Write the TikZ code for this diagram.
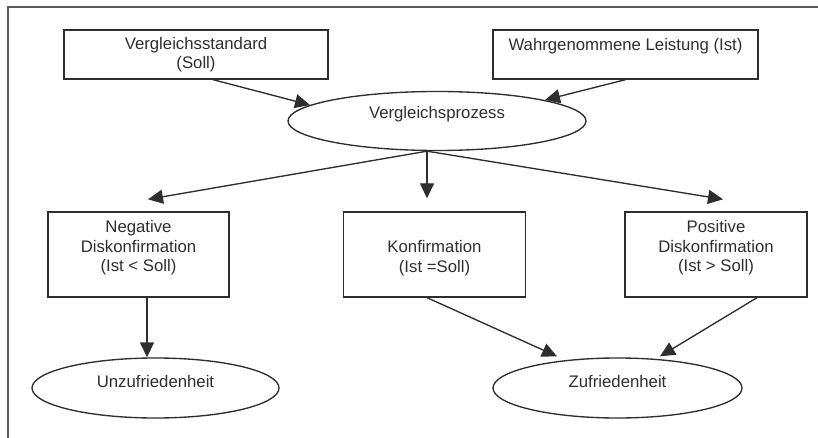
\documentclass[tikz,border=0pt]{standalone}
\usepackage{fontspec}
\setmainfont{Liberation Sans}
\usetikzlibrary{arrows.meta,shapes.geometric,calc}
\definecolor{ink}{HTML}{2E2E2E}
\definecolor{framecol}{HTML}{5A5A5A}
\tikzset{
  boxshape/.style={draw=ink, line width=1.35pt, rectangle, inner sep=0pt},
  ovalshape/.style={draw=ink, line width=1.35pt, ellipse, inner sep=0pt},
  txt/.style={text=ink, align=center, inner sep=0pt,
    font=\fontsize{16.75}{19.5}\selectfont},
  arr/.style={draw=ink, line width=1.35pt, -{Triangle[length=15pt,width=14pt]}},
}
\begin{document}
\begin{tikzpicture}[x=1pt,y=-1pt]
\useasboundingbox (0,0) rectangle (818,438);

% outer frame (top and left edges)
\draw[framecol, line width=1.5pt] (818,7) -- (8,7) -- (8,438);

% top row
\node[boxshape, minimum width=264pt, minimum height=49pt,
  label={[txt]center:Vergleichsstandard\\(Soll)}] (std) at (196,54.5) {};
\node[boxshape, minimum width=265pt, minimum height=49pt,
  label={[txt, yshift=8.5pt]center:Wahrgenommene Leistung (Ist)}] (ist) at (625.5,54.5) {};

% comparison process
\node[ovalshape, minimum width=298pt, minimum height=59pt,
  label={[txt, yshift=7pt]center:Vergleichsprozess}] (cmp) at (437,121) {};

% outcomes of the comparison
\node[boxshape, minimum width=181pt, minimum height=85pt,
  label={[txt, yshift=6.5pt]center:Negative\\Diskonfirmation\\(Ist < Soll)}] (neg) at (138.5,254.5) {};
\node[boxshape, minimum width=182pt, minimum height=85pt,
  label={[txt, yshift=-3.5pt]center:Konfirmation\\(Ist =Soll)}] (kon) at (434.5,254.5) {};
\node[boxshape, minimum width=182pt, minimum height=85pt,
  label={[txt, yshift=6.5pt]center:Positive\\Diskonfirmation\\(Ist > Soll)}] (pos) at (716,254.5) {};

% satisfaction states
\node[ovalshape, minimum width=247pt, minimum height=60pt,
  label={[txt, yshift=6pt]center:Unzufriedenheit}] (unz) at (155.5,388) {};
\node[ovalshape, minimum width=249pt, minimum height=60pt,
  label={[txt, yshift=6pt]center:Zufriedenheit}] (zuf) at (617.5,388) {};

% connectors
\draw[arr] ($(std.south)+(17,0)$) -- ($(cmp.center)+(-127,-16)$);
\draw[arr] (ist.south) -- ($(cmp.center)+(108,-21)$);

\coordinate (fan) at ($(cmp.south)+(-10,0)$);
\draw[arr] (fan) -- ($(neg.north)+(9.5,-12)$);
\draw[arr] (fan) -- (fan |- {$(kon.north)+(0,-13)$});
\draw[arr] (fan) -- ($(pos.north)+(7,-12)$);

\coordinate (negout) at ($(neg.south)+(8.5,0)$);
\draw[arr] (negout) -- (negout |- unz.north);
\draw[arr] ($(kon.south)+(-7.5,0)$) -- ($(zuf.north)+(-60.5,-1)$);
\draw[arr] ($(pos.south)+(41,0)$) -- ($(zuf.north)+(42.5,-1)$);
\end{tikzpicture}
\end{document}
